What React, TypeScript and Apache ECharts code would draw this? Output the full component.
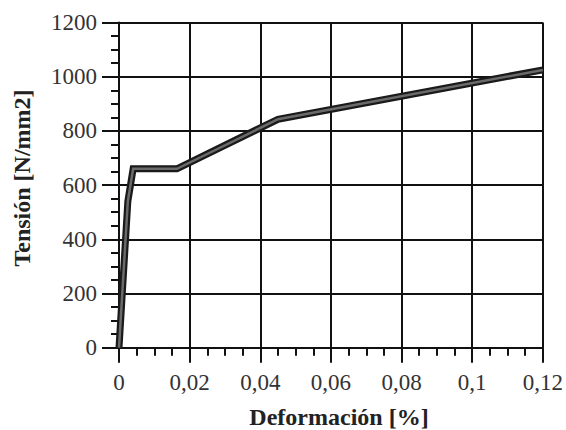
import React, { useEffect, useRef } from "react";
import * as echarts from "echarts";

const strain = [0, 0.0025, 0.004, 0.0164, 0.045, 0.12];
const stress = [0, 540, 660, 660, 843, 1025];
const xTicks = [0, 0.02, 0.04, 0.06, 0.08, 0.1, 0.12];
const yTicks = [0, 200, 400, 600, 800, 1000, 1200];
const xTitle = "Deformación [%]";
const yTitle = "Tensión [N/mm2]";

const FONT = "Liberation Serif";

export default function App() {
  const ref = useRef<HTMLDivElement>(null);
  useEffect(() => {
    if (!ref.current) return;
    const chart = echarts.init(ref.current, null, { renderer: "svg" });
    const pts = strain.map((x, i) => [x, stress[i]]);
    const fmtX = (v: number) => {
      const t = xTicks.find((k) => Math.abs(k - v) < 1e-9);
      const n = t !== undefined ? t : v;
      return String(Number(n.toFixed(2))).replace(".", ",");
    };
    const fmtY = (v: number) => {
      const t = yTicks.find((k) => Math.abs(k - v) < 1e-6);
      return String(t !== undefined ? t : Math.round(v));
    };
    const axisCommon = {
      axisLine: { show: true, lineStyle: { color: "#111", width: 2 } },
      splitLine: { show: true, lineStyle: { color: "#111", width: 2 } },
      minorTick: { show: true, splitNumber: 4, length: 8, lineStyle: { color: "#111", width: 2 } },
    };
    chart.setOption({
      animation: false,
      backgroundColor: "#fff",
      grid: { left: 119, right: 22, top: 22.5, bottom: 82.3, containLabel: false },
      xAxis: {
        type: "value",
        min: xTicks[0],
        max: xTicks[xTicks.length - 1],
        interval: 0.02,
        ...axisCommon,
        axisTick: { show: true, inside: false, length: 15, lineStyle: { color: "#111", width: 2 } },
        axisLabel: {
          formatter: fmtX,
          margin: 23,
          fontFamily: FONT,
          fontSize: 23,
          color: "#333",
          showMinLabel: true,
          showMaxLabel: true,
        },
      },
      yAxis: {
        type: "value",
        min: yTicks[0],
        max: yTicks[yTicks.length - 1],
        interval: 200,
        ...axisCommon,
        axisTick: { show: true, inside: false, length: 17, lineStyle: { color: "#111", width: 2 } },
        axisLabel: {
          formatter: fmtY,
          margin: 22,
          fontFamily: FONT,
          fontSize: 23,
          color: "#333",
          showMinLabel: true,
          showMaxLabel: true,
        },
      },
      series: [
        {
          type: "line",
          data: pts,
          symbol: "none",
          lineStyle: { color: "#1a1a1a", width: 7, join: "miter" },
          z: 5,
        },
        {
          type: "line",
          data: pts,
          symbol: "none",
          lineStyle: { color: "#6a6a6a", width: 2.5, join: "miter" },
          z: 6,
        },
      ],
      graphic: [
        {
          type: "text",
          x: 339,
          y: 417,
          style: {
            text: xTitle,
            fontFamily: FONT,
            fontSize: 24,
            fontWeight: "bold",
            fill: "#222",
            textAlign: "center",
            textVerticalAlign: "middle",
          },
        },
        {
          type: "text",
          x: 22,
          y: 178,
          rotation: Math.PI / 2,
          style: {
            text: yTitle,
            fontFamily: FONT,
            fontSize: 24,
            fontWeight: "bold",
            fill: "#222",
            textAlign: "center",
            textVerticalAlign: "middle",
          },
        },
      ],
    });
    return () => chart.dispose();
  }, []);
  return (
    <div
      ref={ref}
      style={{ position: "fixed", left: 0, top: 0, width: 566, height: 430 }}
    />
  );
}
